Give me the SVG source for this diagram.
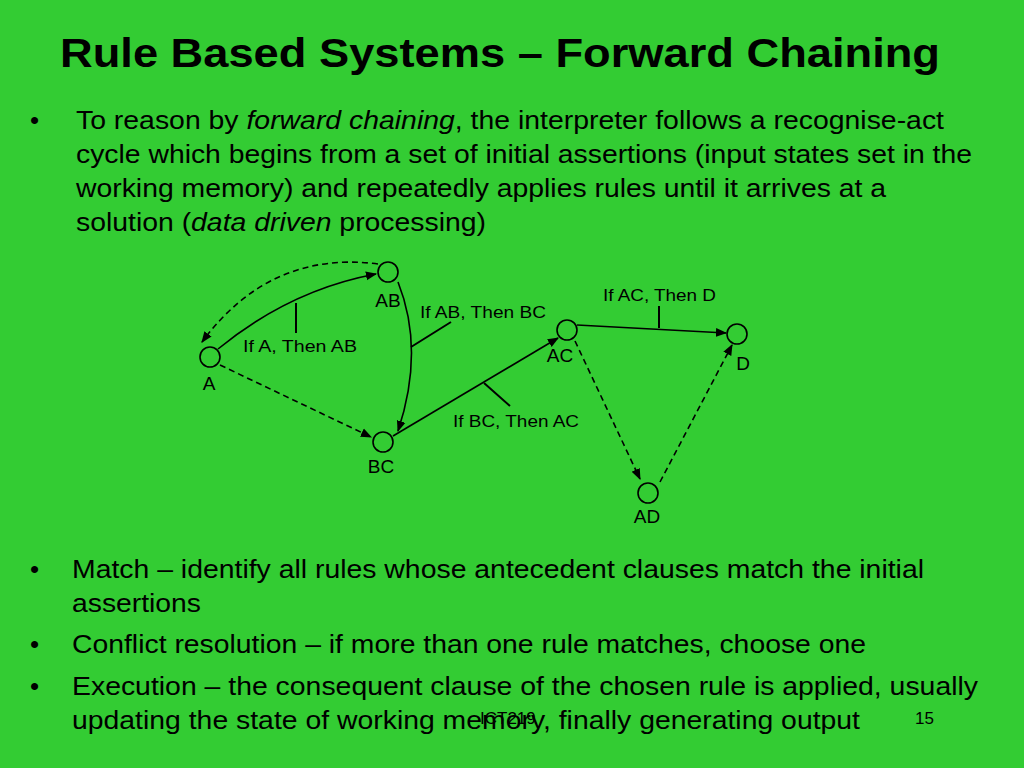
<svg xmlns="http://www.w3.org/2000/svg" width="1024" height="768" viewBox="0 0 1024 768">
<style>
text{font-family:"Liberation Sans",Arial,sans-serif;fill:#000}
.t{font-size:41px;font-weight:bold}
.b{font-size:26px}
.n{font-size:19px}
.r{font-size:16px}
.c{fill:none;stroke:#000;stroke-width:2}
.e{fill:none;stroke:#000;stroke-width:1.6}
.d{stroke-dasharray:6,4}
</style>
<defs>
<marker id="ah" viewBox="0 0 10 10" refX="9" refY="5" markerWidth="7" markerHeight="7" orient="auto"><path d="M0,1 L10,5 L0,9 Z" fill="#000"/></marker>
</defs>
<rect width="1024" height="768" fill="#33cc33"/>
<text class="t" x="60" y="67" textLength="880" lengthAdjust="spacingAndGlyphs">Rule Based Systems – Forward Chaining</text>
<g class="b">
<text x="30" y="129">•</text>
<text x="76" y="129" textLength="868" lengthAdjust="spacingAndGlyphs">To reason by <tspan font-style="italic">forward chaining</tspan>, the interpreter follows a recognise-act</text>
<text x="76" y="163" textLength="896" lengthAdjust="spacingAndGlyphs">cycle which begins from a set of initial assertions (input states set in the</text>
<text x="76" y="197" textLength="810" lengthAdjust="spacingAndGlyphs">working memory) and repeatedly applies rules until it arrives at a</text>
<text x="76" y="231" textLength="410" lengthAdjust="spacingAndGlyphs">solution (<tspan font-style="italic">data driven</tspan> processing)</text>
<text x="30" y="578">•</text>
<text x="72" y="578" textLength="852" lengthAdjust="spacingAndGlyphs">Match – identify all rules whose antecedent clauses match the initial</text>
<text x="72" y="612" textLength="129" lengthAdjust="spacingAndGlyphs">assertions</text>
<text x="30" y="653">•</text>
<text x="72" y="653" textLength="794" lengthAdjust="spacingAndGlyphs">Conflict resolution – if more than one rule matches, choose one</text>
<text x="30" y="695">•</text>
<text x="72" y="695" textLength="906" lengthAdjust="spacingAndGlyphs">Execution – the consequent clause of the chosen rule is applied, usually</text>
<text x="72" y="729" textLength="788" lengthAdjust="spacingAndGlyphs">updating the state of working memory, finally generating output</text>
</g>
<text x="480" y="724" style="font-size:17px">ICT219</text>
<text x="915" y="724" style="font-size:17px">15</text>
<g id="connectors">
<path class="e" d="M218,349 Q290,290 376,274" marker-end="url(#ah)"/>
<path class="e d" d="M378,264 Q270,250 202,342" marker-end="url(#ah)"/>
<path class="e" d="M398,282 Q425,350 398,431" marker-end="url(#ah)"/>
<path class="e d" d="M220,365 L371,437" marker-end="url(#ah)"/>
<path class="e" d="M393,436 L558,338" marker-end="url(#ah)"/>
<path class="e" d="M577,325 L726,333" marker-end="url(#ah)"/>
<path class="e d" d="M575,341 L640,479" marker-end="url(#ah)"/>
<path class="e d" d="M660,482 L732,345" marker-end="url(#ah)"/>
<path class="c" d="M296,303 L296,333 M411,347 L451,322 M484,383 L510,406 M659,306 L659,328"/>
<text class="r" x="243" y="352" textLength="114" lengthAdjust="spacingAndGlyphs">If A, Then AB</text>
<text class="r" x="420" y="318" textLength="126" lengthAdjust="spacingAndGlyphs">If AB, Then BC</text>
<text class="r" x="603" y="301" textLength="113" lengthAdjust="spacingAndGlyphs">If AC, Then D</text>
<text class="r" x="453" y="427" textLength="126" lengthAdjust="spacingAndGlyphs">If BC, Then AC</text>
</g>
<g id="A"><circle class="e" cx="210" cy="357" r="10"/><text class="n" x="209" y="390" text-anchor="middle">A</text></g>
<g id="AB"><circle class="e" cx="388" cy="272" r="10"/><text class="n" x="388" y="307" text-anchor="middle">AB</text></g>
<g id="BC"><circle class="e" cx="383" cy="442" r="10"/><text class="n" x="381" y="473" text-anchor="middle">BC</text></g>
<g id="AC"><circle class="e" cx="567" cy="330" r="10"/><text class="n" x="560" y="362" text-anchor="middle">AC</text></g>
<g id="D"><circle class="e" cx="737" cy="334" r="10"/><text class="n" x="743" y="370" text-anchor="middle">D</text></g>
<g id="AD"><circle class="e" cx="648" cy="493" r="10"/><text class="n" x="647" y="523" text-anchor="middle">AD</text></g>
</svg>
